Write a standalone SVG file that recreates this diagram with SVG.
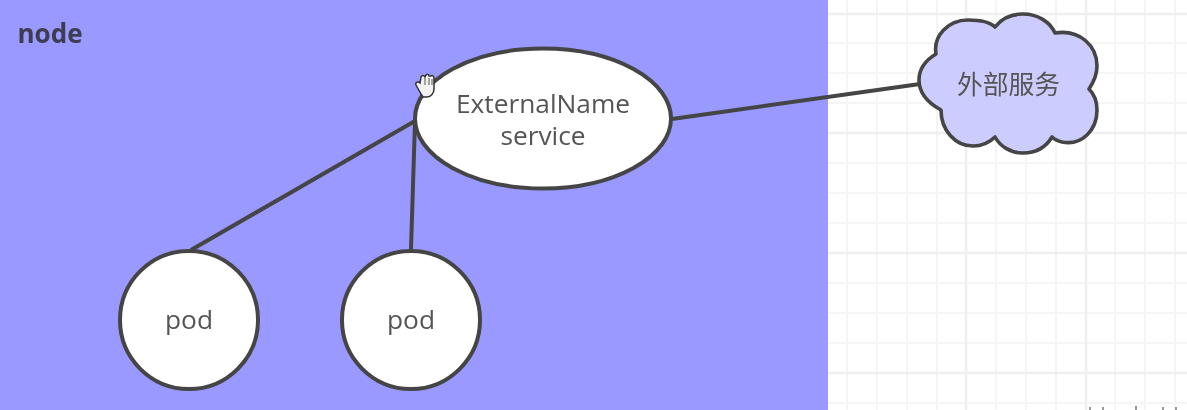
<svg xmlns="http://www.w3.org/2000/svg" width="1187" height="410" viewBox="0 0 1187 410">
<defs><filter id="soft" x="-2%" y="-2%" width="104%" height="104%"><feGaussianBlur stdDeviation="0.55"/></filter></defs>
<style>
.t{font-family:"Open Sans","Noto Sans","Noto Sans CJK SC",sans-serif;font-size:26.3px;fill:#555;text-anchor:middle}
.s{fill:#fff;stroke:#444;stroke-width:4}
.c{fill:none;stroke:#444;stroke-width:4}
.g{stroke:#f5f5f5;stroke-width:2;fill:none}
.G{stroke:#efefef;stroke-width:2.5;fill:none}
</style>
<rect width="1187" height="410" fill="#fff"/>
<g filter="url(#soft)">
<g id="grid">
<path class="g" d="M847 0V410M877 0V410M907 0V410M937 0V410M996 0V410M1026 0V410M1056 0V410M1115 0V410M1145 0V410M1175 0V410M828 43H1187M828 73H1187M828 103H1187M828 163H1187M828 193H1187M828 223H1187M828 283H1187M828 313H1187M828 343H1187M828 403H1187"/>
<path class="G" d="M966 0V410M1086 0V410M828 14H1187M828 133H1187M828 253H1187M828 373H1187"/>
<path d="M1090 410V407M1103 410V407M1136 410V406M1163 410V407M1176 410V407" stroke="#999" stroke-width="2" fill="none"/>
</g>
<rect id="node" x="0" y="0" width="828" height="410" fill="#9999ff"/>
<text x="50" y="43" text-anchor="middle" font-family="'Open Sans',sans-serif" font-size="26" font-weight="700" fill="#3c3c50">node</text>
<g id="connectors">
<path class="c" d="M415 121L191 250"/>
<path class="c" d="M415 121L411 249"/>
<path class="c" d="M672 119L920 84"/>
</g>
<g id="service">
<ellipse class="s" cx="543" cy="118.500" rx="128" ry="70"/>
<text class="t" x="543" y="113">ExternalName</text>
<text class="t" x="543" y="145">service</text>
</g>
<g id="pod1">
<circle class="s" cx="189" cy="320" r="69"/>
<text class="t" x="189" y="329">pod</text>
</g>
<g id="pod2">
<circle class="s" cx="411" cy="320" r="69"/>
<text class="t" x="411" y="329">pod</text>
</g>
<g id="cloud">
<path d="M919 80C919 68 926 60 936 54C933 36 948 20 968 20C980 20 990 22 995 27C1002 18 1012 14 1023 14C1038 14 1050 22 1055 33C1080 29 1097 46 1097 66C1097 76 1093 83 1089 89C1094 94 1097 102 1097 110C1097 130 1082 146 1062 142C1058 141 1054 139 1052 137C1046 147 1036 153 1023 153C1010 153 1000 146 995 137C988 144 980 146 973 146C955 146 941 130 941 110C930 104 919 94 919 80Z" fill="#ccccff" stroke="#444" stroke-width="3.6" stroke-linejoin="round"/>
<text class="t" x="1008.500" y="94" style="font-size:25.8px">外部服务</text>
</g>
<g id="cursor">
<path d="M416 85C415 82 418 81 420 83L421 77C422 75 424 75 425 77L426 75C427 74 429 74 429 76L431 76C432 75 434 76 434 78V89C434 93 431 97 427 97H423C421 94 418 89 416 85Z" fill="#f2f2f2" stroke="#333" stroke-width="1.5"/>
<path d="M425 78V85M429 78V85M432 79V85" stroke="#555" stroke-width="1" fill="none"/>
</g>
</g>
</svg>
